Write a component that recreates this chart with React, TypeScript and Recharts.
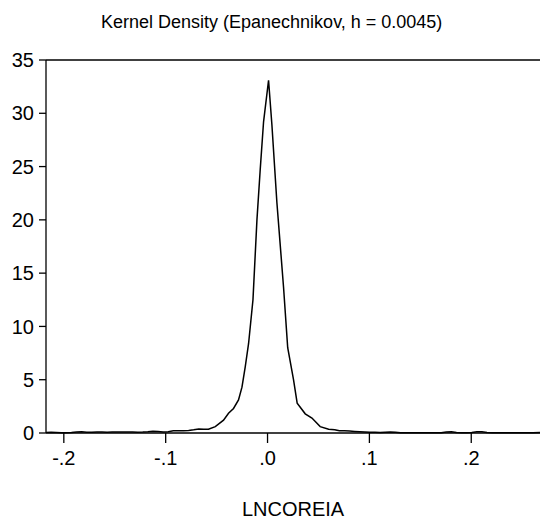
import React from "react";
import { LineChart, Line, XAxis, YAxis, ReferenceLine, Label } from "recharts";

// kernel density estimate
const gridX = [
  -0.2175, -0.2125, -0.2075, -0.2025, -0.1975, -0.1925, -0.1875, -0.1825, -0.1775, -0.1725,
  -0.1675, -0.1625, -0.1575, -0.1525, -0.1475, -0.1425, -0.1375, -0.1325, -0.1275, -0.1225,
  -0.1175, -0.1125, -0.1075, -0.1025, -0.0975, -0.0925, -0.0875, -0.0825, -0.0775, -0.0725,
  -0.0675, -0.0625, -0.058, -0.0513, -0.0432, -0.0383, -0.0334, -0.0285, -0.0251, -0.0219,
  -0.0186, -0.0143, -0.0104, -0.0072, -0.0039, 0.001, 0.0043, 0.0092, 0.0157, 0.0198,
  0.0255, 0.0291, 0.037, 0.0436, 0.0517, 0.06, 0.066, 0.0705, 0.0755, 0.0805,
  0.0855, 0.0905, 0.0955, 0.1005, 0.1055, 0.1105, 0.1155, 0.1205, 0.1255, 0.1305,
  0.1355, 0.1405, 0.1455, 0.1505, 0.1555, 0.1605, 0.1655, 0.1705, 0.1755, 0.1805,
  0.1855, 0.1905, 0.1955, 0.2005, 0.2055, 0.2105, 0.2155, 0.2205, 0.2255, 0.2305,
  0.2355, 0.2405, 0.2455, 0.2505, 0.2555, 0.2605, 0.2675,
];
const density = [
  0.05, 0.07, 0.05, 0.03, 0.03, 0.05, 0.09, 0.12, 0.07, 0.06,
  0.1, 0.09, 0.08, 0.1, 0.1, 0.09, 0.1, 0.1, 0.08, 0.09,
  0.12, 0.17, 0.14, 0.1, 0.12, 0.2, 0.22, 0.2, 0.24, 0.3,
  0.38, 0.36, 0.35, 0.6, 1.2, 1.85, 2.3, 3.1, 4.3, 6.2,
  8.4, 12.5, 20.0, 24.7, 29.2, 33.1, 28.9, 21.6, 13.7, 8.0,
  5.0, 2.8, 1.8, 1.4, 0.6, 0.35, 0.3, 0.22, 0.2, 0.19,
  0.15, 0.12, 0.1, 0.08, 0.06, 0.05, 0.08, 0.1, 0.06, 0.03,
  0.02, 0.02, 0.02, 0.02, 0.02, 0.02, 0.02, 0.03, 0.1, 0.12,
  0.05, 0.02, 0.02, 0.05, 0.12, 0.12, 0.05, 0.02, 0.02, 0.02,
  0.02, 0.02, 0.02, 0.02, 0.02, 0.03, 0.05,
];
const xTicks = [-0.2, -0.1, 0, 0.1, 0.2];
const xTickLabels = ["-.2", "-.1", ".0", ".1", ".2"];
const yTicks = [0, 5, 10, 15, 20, 25, 30, 35];

const data = gridX.map((x, i) => ({ x, y: density[i] }));

const font = "'Liberation Sans', Arial, sans-serif";

// EViews style labels without the leading zero
const XTick = (props: any) => {
  const { x, y, payload } = props;
  const i = xTicks.findIndex((t) => Math.abs(t - payload.value) < 1e-9);
  const txt = i >= 0 ? xTickLabels[i] : String(payload.value);
  return (
    <text
      x={x}
      y={y}
      dy="0.71em"
      textAnchor="middle"
      fill="#000"
      fontSize={20}
      fontFamily={font}
    >
      {txt}
    </text>
  );
};

export default function App() {
  return (
    <div
      style={{
        position: "absolute",
        left: 0,
        top: 0,
        width: 540,
        height: 520,
        background: "#fff",
        fontFamily: font,
      }}
    >
      <div
        style={{
          position: "absolute",
          left: 101,
          top: 12,
          fontSize: 18,
          color: "#000",
          whiteSpace: "nowrap",
        }}
      >
        Kernel Density (Epanechnikov, h = 0.0045)
      </div>
      <LineChart
        width={540}
        height={520}
        data={data}
        margin={{ top: 60, right: 0, left: 0, bottom: 0 }}
      >
        <XAxis
          dataKey="x"
          type="number"
          domain={[-0.2175, 0.2675]}
          allowDataOverflow
          ticks={xTicks}
          height={87}
          tickSize={10}
          tickMargin={8}
          axisLine={{ stroke: "#000", strokeWidth: 1.3 }}
          tickLine={{ stroke: "#000", strokeWidth: 1.3 }}
          tick={<XTick />}
        >
          <Label
            value="LNCOREIA"
            position="insideBottom"
            offset={4}
            style={{ fill: "#000", fontSize: 20, fontFamily: font }}
          />
        </XAxis>
        <YAxis
          type="number"
          domain={[0, 35]}
          ticks={yTicks}
          width={46}
          tickSize={7}
          tickMargin={5}
          axisLine={{ stroke: "#000", strokeWidth: 1.3 }}
          tickLine={{ stroke: "#000", strokeWidth: 1.3 }}
          tick={{ fill: "#000", fontSize: 20, fontFamily: font }}
        />
        <ReferenceLine y={35} stroke="#000" strokeWidth={1.3} />
        <Line
          type="linear"
          dataKey="y"
          stroke="#000"
          strokeWidth={1.5}
          dot={false}
          isAnimationActive={false}
        />
      </LineChart>
    </div>
  );
}
